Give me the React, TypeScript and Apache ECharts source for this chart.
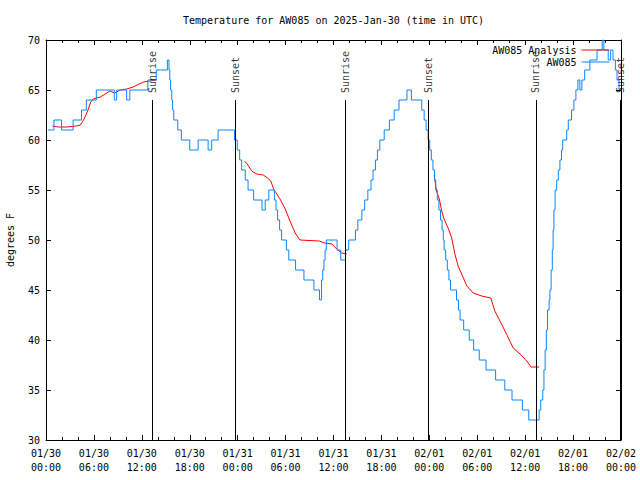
import React, { useEffect, useRef } from "react";
import * as echarts from "echarts";

const TITLE = "Temperature for AW085 on 2025-Jan-30 (time in UTC)";
const Y_NAME = "degrees F";
const SERIES_ANALYSIS = "AW085 Analysis";
const SERIES_OBS = "AW085";

// hours since 2025-01-30 00:00 UTC
const X_MIN = 0;
const X_MAX = 72;
const X_STEP = 6;
const Y_MIN = 30;
const Y_MAX = 70;
const Y_STEP = 5;
const START_MS = Date.UTC(2025, 0, 30, 0, 0, 0);

// AW085 observations: [hour, degF] (value held until next point)
const aw085Day1: number[][] = [
  [0.25, 61], [1.0, 62], [1.95, 61], [3.4, 62], [4.45, 63], [5.05, 64], [6.3, 65],
  [8.55, 64], [8.85, 65], [10.1, 64], [10.5, 65], [12.75, 66], [13.8, 67], [15.2, 68],
  [15.4, 67], [15.5, 66], [15.6, 65], [15.75, 64], [15.85, 63], [16.0, 62], [16.5, 61],
  [16.95, 60], [18.0, 59], [19.05, 60], [20.3, 59], [20.75, 60], [21.55, 61], [23.6, 60],
  [23.95, 59],
];
const aw085Day2: number[][] = [
  [24.25, 58], [24.5, 57], [24.95, 56], [25.3, 55], [26.0, 54], [27.05, 53], [27.45, 54],
  [27.9, 55], [28.6, 54], [28.8, 53], [29.0, 52], [29.25, 51], [29.5, 50], [30.1, 49],
  [30.4, 48], [31.25, 47], [32.3, 46], [33.55, 45], [34.25, 44], [34.5, 46], [34.65, 47],
  [34.8, 48], [34.95, 49], [35.1, 50], [36.45, 49], [36.9, 48], [37.5, 49], [37.9, 50],
  [38.75, 51], [39.05, 52], [39.55, 53], [39.9, 54], [40.3, 55], [40.7, 56], [40.95, 57],
  [41.25, 58], [41.5, 59], [41.8, 60], [42.35, 61], [43.0, 62], [43.6, 63], [44.2, 64],
  [45.2, 65], [45.75, 64], [47.05, 63], [47.35, 62], [47.6, 61], [47.85, 60],
];
const aw085Day3: number[][] = [
  [48.05, 59], [48.25, 58], [48.45, 57], [48.65, 56], [48.8, 55], [49.0, 54], [49.2, 53],
  [49.4, 52], [49.6, 51], [49.75, 50], [49.85, 49], [50.05, 48], [50.25, 47], [50.45, 46],
  [50.65, 45], [51.4, 44], [51.65, 43], [51.85, 42], [52.3, 41], [53.0, 40], [53.55, 39],
  [54.25, 38], [55.1, 37], [56.3, 36], [57.45, 35], [58.35, 34], [59.65, 33], [60.45, 32],
  [61.75, 33], [61.95, 34], [62.2, 35], [62.35, 37], [62.5, 39], [62.65, 41], [62.8, 43],
  [63.0, 44], [63.1, 45], [63.25, 47], [63.4, 49], [63.5, 51], [63.6, 53], [63.75, 55],
  [63.95, 56], [64.15, 57], [64.35, 58], [64.55, 59], [64.7, 60], [65.2, 61], [65.4, 62],
  [65.8, 63], [66.1, 64], [66.35, 65], [66.6, 66], [66.85, 65], [67.1, 66], [67.45, 67],
  [68.1, 68], [69.0, 69], [69.65, 70], [69.85, 69], [70.4, 68], [70.7, 69], [71.0, 68],
  [71.3, 67], [71.5, 66], [71.75, 65], [71.9, 65],
];

// AW085 Analysis: [hour, degF], three segments
const analysisSeg1: number[][] = [
  [0.8, 61.4], [1.6, 61.3], [2.6, 61.3], [3.8, 61.4], [4.3, 61.5], [4.7, 62.0], [5.0, 62.5],
  [5.3, 63.1], [5.6, 63.8], [5.9, 64.1], [6.8, 64.3], [7.4, 64.6], [8.0, 64.9], [8.6, 64.7],
  [9.3, 65.0], [10.1, 65.1], [10.9, 65.3], [11.4, 65.5], [12.2, 65.8], [13.0, 65.9], [13.85, 66.0],
];
const analysisSeg2: number[][] = [
  [24.85, 57.9], [25.2, 57.6], [25.75, 56.9], [26.4, 56.6], [27.2, 56.5], [27.75, 56.2],
  [28.15, 55.9], [28.5, 55.1], [29.3, 54.1], [29.9, 53.2], [30.55, 51.9], [31.2, 50.7],
  [31.8, 50.0], [34.2, 49.9], [34.9, 49.7], [35.8, 49.6], [36.4, 49.1], [37.0, 48.7], [37.65, 48.6],
];
const analysisSeg3: number[][] = [
  [48.6, 56.5], [48.9, 54.9], [49.25, 54.1], [49.55, 52.9], [49.85, 52.1], [50.4, 51.1],
  [50.8, 50.2], [51.2, 48.6], [51.6, 47.4], [52.05, 46.6], [52.7, 45.4], [53.5, 44.7],
  [54.55, 44.4], [55.7, 44.2], [56.2, 42.9], [56.85, 41.9], [57.6, 40.7], [58.5, 39.2],
  [59.35, 38.6], [60.2, 37.9], [60.75, 37.3], [61.75, 37.3],
];

const sunriseHours = [13.3, 37.45, 61.35];
const sunsetHours = [23.75, 47.9, 71.9];
const SUN_LINE_TOP = 64;
const SUN_LABEL_AT = 64.7;

const FONT = "'DejaVu Sans Mono', 'Liberation Mono', monospace";
const RED = "#ff0000";
const BLUE = "#0a85ff";
const BLACK = "#000000";

const pad = (n: number) => String(n).padStart(2, "0");
function fmtX(h: number): string {
  const d = new Date(START_MS + Math.round(h * 3600000));
  return `${pad(d.getUTCMonth() + 1)}/${pad(d.getUTCDate())}\n${pad(d.getUTCHours())}:${pad(d.getUTCMinutes())}`;
}

export default function App() {
  const ref = useRef<HTMLDivElement>(null);
  useEffect(() => {
    document.body.style.margin = "0";
    if (!ref.current) return;
    const chart = echarts.init(ref.current, undefined, { renderer: "svg" });
    const axisCommon = {
      type: "value" as const,
      axisLine: { show: true, onZero: false, lineStyle: { color: BLACK, width: 1 } },
      axisTick: { show: true, inside: true, length: 5, lineStyle: { color: BLACK, width: 1 } },
      splitLine: { show: false },
    };
    const sunItems = [
      ...sunriseHours.map((t) => ({ name: "Sunrise", value: [t, SUN_LABEL_AT] })),
      ...sunsetHours.map((t) => ({ name: "Sunset", value: [t, SUN_LABEL_AT] })),
    ];
    const sunTimes = [...sunriseHours, ...sunsetHours];
    const analysisCommon = {
      type: "line" as const,
      name: SERIES_ANALYSIS,
      symbol: "none",
      showSymbol: false,
      color: RED,
      lineStyle: { color: RED, width: 1 },
      z: 2,
    };
    chart.setOption({
      animation: false,
      backgroundColor: "#ffffff",
      title: {
        text: TITLE,
        left: 183,
        top: 15,
        padding: 0,
        textStyle: { fontFamily: FONT, fontSize: 10, fontWeight: "normal", color: BLACK },
      },
      legend: {
        data: [SERIES_ANALYSIS, SERIES_OBS],
        orient: "vertical",
        right: 30,
        top: 45,
        padding: 0,
        align: "right",
        itemWidth: 28,
        itemHeight: 10,
        itemGap: 2,
        itemStyle: { opacity: 0 },
        lineStyle: { width: 1 },
        textStyle: { fontFamily: FONT, fontSize: 10, color: BLACK },
      },
      grid: { left: 46, right: 19, top: 40, bottom: 40, outerBoundsMode: "none" },
      xAxis: [
        {
          ...axisCommon,
          position: "bottom",
          min: X_MIN,
          max: X_MAX,
          interval: X_STEP,
          minorTick: { show: true, splitNumber: 3, length: 3, lineStyle: { color: BLACK } },
          axisLabel: { formatter: fmtX, color: BLACK, fontFamily: FONT, fontSize: 10, lineHeight: 14, margin: 6 },
        },
        {
          ...axisCommon,
          position: "top",
          min: X_MIN,
          max: X_MAX,
          interval: X_STEP,
          minorTick: { show: true, splitNumber: 3, length: 3, lineStyle: { color: BLACK } },
          axisLabel: { show: false },
        },
      ],
      yAxis: [
        {
          ...axisCommon,
          position: "left",
          min: Y_MIN,
          max: Y_MAX,
          interval: Y_STEP,
          name: Y_NAME,
          nameLocation: "middle",
          nameRotate: 90,
          nameGap: 31,
          nameTextStyle: { fontFamily: FONT, fontSize: 10, color: BLACK },
          axisLabel: { color: BLACK, fontFamily: FONT, fontSize: 10, margin: 6 },
        },
        {
          ...axisCommon,
          position: "right",
          min: Y_MIN,
          max: Y_MAX,
          interval: Y_STEP,
          axisLabel: { show: false },
        },
      ],
      series: [
        { ...analysisCommon, data: analysisSeg1 },
        { ...analysisCommon, data: analysisSeg2 },
        { ...analysisCommon, data: analysisSeg3 },
        {
          type: "line",
          name: SERIES_OBS,
          data: [...aw085Day1, ...aw085Day2, ...aw085Day3],
          step: "end",
          symbol: "none",
          showSymbol: false,
          color: BLUE,
          lineStyle: { color: BLUE, width: 1 },
          z: 3,
        },
        {
          type: "scatter",
          name: "sun",
          data: sunItems,
          symbolSize: 1,
          itemStyle: { color: "rgba(0,0,0,0)" },
          z: 4,
          label: {
            show: true,
            position: "inside",
            formatter: "{b}",
            rotate: 90,
            align: "left",
            verticalAlign: "middle",
            fontFamily: FONT,
            fontSize: 10,
            color: BLACK,
          },
          markLine: {
            silent: true,
            symbol: ["none", "none"],
            lineStyle: { color: BLACK, width: 1, type: "solid" },
            label: { show: false },
            data: sunTimes.map((t) => [{ coord: [t, Y_MIN] }, { coord: [t, SUN_LINE_TOP] }]),
          },
        },
      ],
    });
    return () => chart.dispose();
  }, []);
  return <div ref={ref} style={{ width: 640, height: 480 }} />;
}
